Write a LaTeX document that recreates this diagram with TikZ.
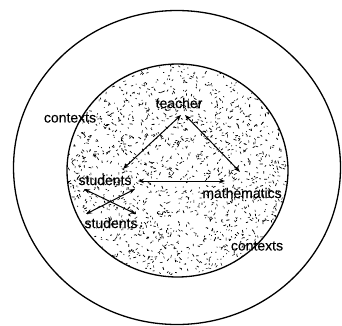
\documentclass[tikz,border=0pt]{standalone}
\usepackage{fontspec}
\setmainfont{Liberation Sans}[FakeBold=0.25]
\usetikzlibrary{arrows.meta}
\begin{document}
\begin{tikzpicture}[x=1pt,y=-1pt,
  lbl/.style={font=\fontsize{14}{16}\selectfont, inner sep=0.5pt},
  link/.style={line width=1pt, {Stealth[length=6pt,width=4.5pt]}-{Stealth[length=6pt,width=4.5pt]}},
  ring/.style={line width=1.3pt}]
\useasboundingbox (0,0) rectangle (342,325);
% outer and inner circles
\draw[ring] (177,167.5) ellipse [x radius=163.5, y radius=157];
\begin{scope}
  \clip (177.5,170.5) ellipse [x radius=110.5, y radius=106.5];
  \pgfmathsetseed{7}
  \foreach \i in {1,...,1500}{
    \pgfmathsetmacro{\ang}{rnd*360}
    \pgfmathsetmacro{\rad}{sqrt(rnd)}
    \pgfmathsetmacro{\dir}{rnd*360}
    \pgfmathsetmacro{\len}{0.8+rnd*2.4}
    \pgfmathsetmacro{\lw}{0.45+rnd*0.4}
    \draw[line width=\lw pt] ({177.5+110.5*\rad*cos(\ang)},{170.5+106.5*\rad*sin(\ang)}) -- ++(\dir:\len);
  }
\end{scope}
\draw[ring] (177.5,170.5) ellipse [x radius=110.5, y radius=106.5];
% labels
\node[lbl] (teacher) at (179,103) {teacher};
\node[lbl] (ctxa) at (70,118) {contexts};
\node[lbl] (stu) at (105,180) {students};
\node[lbl] (math) at (242,193) {mathematics};
\node[lbl] (stub) at (111,223) {students};
\node[lbl] (ctxb) at (257,246) {contexts};
% arrow end points
\coordinate (tl) at (181,115);
\coordinate (tr) at (185,115);
\coordinate (sl) at (123,169);
\coordinate (mr) at (240,172);
\coordinate (hl) at (138,181);
\coordinate (hr) at (225,181);
\coordinate (xa1) at (84,189);
\coordinate (xa2) at (136,214);
\coordinate (xb1) at (86,214);
\coordinate (xb2) at (135,189);
\draw[link] (sl) -- (tl);
\draw[link] (tr) -- (mr);
\draw[link] (hl) -- (hr);
\draw[link] (xa1) -- (xa2);
\draw[link] (xb1) -- (xb2);
\end{tikzpicture}
\end{document}
